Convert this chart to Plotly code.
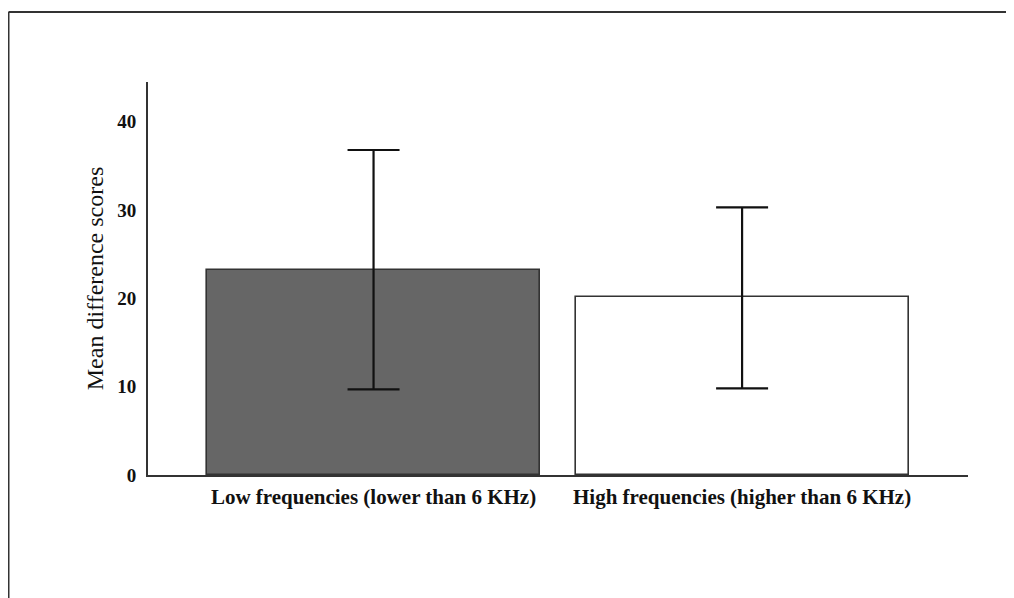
import plotly.graph_objects as go

categories = ["Low frequencies (lower than 6 KHz)", "High frequencies (higher than 6 KHz)"]
means = [23.2, 20.1]
err_plus = [13.6, 10.2]
err_minus = [13.5, 10.3]
bar_colors = ["#666666", "#ffffff"]
y_ticks = [0, 10, 20, 30, 40]

# page is shown with an 8px body margin, so the figure is sized to fill the rest
W, H = 1006, 590
L, R, T, B = 140, 46, 74, 123

fig = go.Figure()
fig.add_trace(go.Bar(
    x=[0, 1], y=means, width=0.904,
    marker=dict(color=bar_colors, line=dict(color="#333333", width=1.6)),
    error_y=dict(type="data", symmetric=False, array=err_plus, arrayminus=err_minus,
                 color="#111111", thickness=2.2, width=26),
    showlegend=False, hoverinfo="skip",
))

pw = W - L - R
ph = H - T - B
bx = (0.5 - L) / pw
by = 1 + (T - 4) / ph
fig.add_shape(type="line", xref="paper", yref="paper", x0=bx, x1=(W - L + 20) / pw, y0=by, y1=by,
              line=dict(color="#333333", width=2))
fig.add_shape(type="line", xref="paper", yref="paper", x0=bx, x1=bx, y0=by, y1=-(B + 5) / ph,
              line=dict(color="#333333", width=2))

fig.update_layout(
    width=W, height=H,
    margin=dict(l=L, r=R, t=T, b=B),
    paper_bgcolor="white", plot_bgcolor="white",
    font=dict(family="Liberation Serif", color="#111111"),
    bargap=0,
    xaxis=dict(
        range=[-0.612, 1.613], tickmode="array", tickvals=[0, 1],
        ticktext=["<b>" + c + "</b>" for c in categories],
        tickfont=dict(size=21, family="Liberation Serif", color="#111111"),
        showline=True, linecolor="#333333", linewidth=2, ticks="", showgrid=False,
        zeroline=False, ticklabelstandoff=2,
    ),
    yaxis=dict(
        range=[0, 44.5], tickmode="array", tickvals=y_ticks,
        ticktext=["<b>%d</b>" % v for v in y_ticks],
        tickfont=dict(size=19, family="Liberation Serif", color="#111111"),
        showline=True, linecolor="#333333", linewidth=2, ticks="", showgrid=False,
        zeroline=False, ticklabelstandoff=6,
        title=dict(text="Mean difference scores", font=dict(size=24, family="Liberation Serif", color="#111111"),
                   standoff=7),
    ),
)

fig.write_html("out.html")
